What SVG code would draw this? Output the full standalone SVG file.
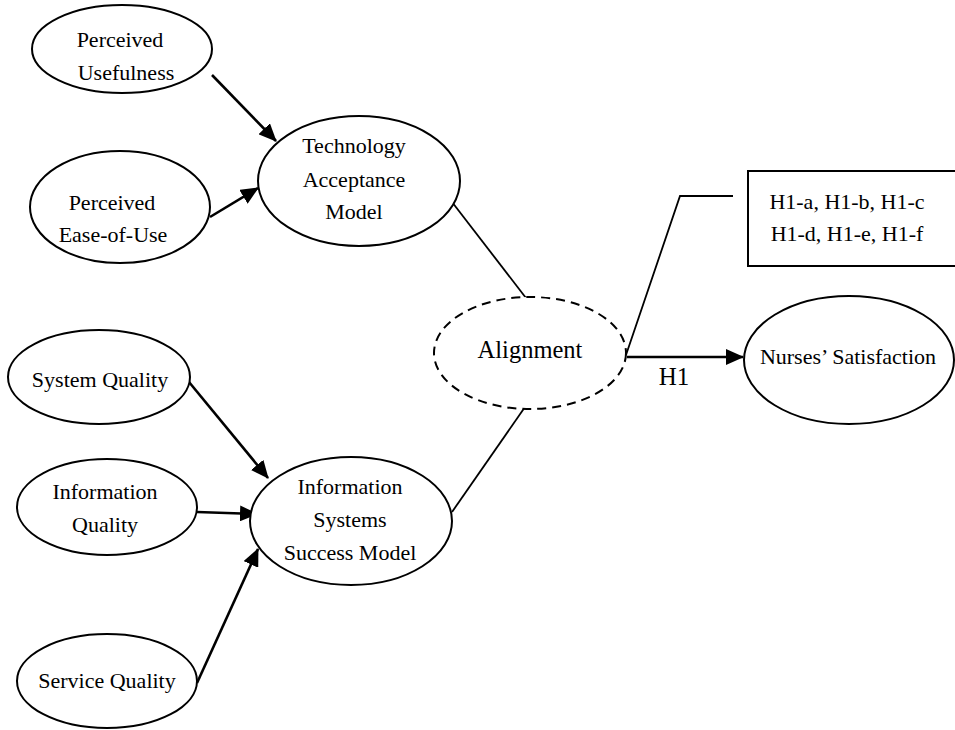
<svg xmlns="http://www.w3.org/2000/svg" width="955" height="730" viewBox="0 0 955 730">
<style>
.n{fill:#fff;stroke:#000;stroke-width:2}
.d{fill:#fff;stroke:#000;stroke-width:2;stroke-dasharray:9,6}
.t{font-family:'Liberation Serif','Times New Roman',Tinos,'DejaVu Serif',serif;font-size:22px;fill:#000;text-anchor:middle}
.a{stroke:#000;stroke-width:2.6;fill:none;marker-end:url(#ah)}
.l{stroke:#000;stroke-width:1.8;fill:none}
</style>
<defs>
<marker id="ah" markerUnits="userSpaceOnUse" markerWidth="18" markerHeight="16" viewBox="0 0 18 16" refX="17" refY="8" orient="auto">
<path d="M0,0 L18,8 L0,16 Z" fill="#000"/>
</marker>
</defs>
<rect width="955" height="730" fill="#fff"/>
<g id="connectors">
<line class="a" x1="212" y1="75" x2="276" y2="141"/>
<line class="a" x1="210" y1="217" x2="258" y2="188"/>
<line class="a" x1="189" y1="382" x2="268" y2="478"/>
<line class="a" x1="197" y1="512" x2="257" y2="514"/>
<line class="a" x1="197" y1="683" x2="258" y2="549"/>
<line class="a" x1="627" y1="357" x2="743" y2="357"/>
<line class="l" x1="452" y1="202" x2="526" y2="298"/>
<line class="l" x1="452" y1="512" x2="525" y2="407"/>
<polyline class="l" points="626,355 680,196 733,196"/>
<text class="t" x="674" y="385" style="font-size:25px">H1</text>
</g>
<g id="pu"><ellipse class="n" cx="122" cy="49" rx="90" ry="44"/><text class="t" x="120" y="47">Perceived</text><text class="t" x="126" y="80">Usefulness</text></g>
<g id="peu"><ellipse class="n" cx="120" cy="207" rx="90" ry="56"/><text class="t" x="112" y="210">Perceived</text><text class="t" x="113" y="242">Ease-of-Use</text></g>
<g id="tam"><ellipse class="n" cx="359" cy="181" rx="101" ry="65"/><text class="t" x="354" y="153">Technology</text><text class="t" x="354" y="187">Acceptance</text><text class="t" x="354" y="219">Model</text></g>
<g id="sq"><ellipse class="n" cx="99" cy="377" rx="91" ry="47"/><text class="t" x="100" y="387">System Quality</text></g>
<g id="iq"><ellipse class="n" cx="107" cy="507" rx="90" ry="48"/><text class="t" x="105" y="499">Information</text><text class="t" x="105" y="532">Quality</text></g>
<g id="svq"><ellipse class="n" cx="107" cy="681" rx="90" ry="47"/><text class="t" x="107" y="688">Service Quality</text></g>
<g id="issm"><ellipse class="n" cx="351" cy="521" rx="101" ry="64"/><text class="t" x="350" y="494">Information</text><text class="t" x="350" y="527">Systems</text><text class="t" x="350" y="560">Success Model</text></g>
<g id="align"><ellipse class="d" cx="530" cy="353" rx="96" ry="56"/><text class="t" x="530" y="358" style="font-size:24.5px">Alignment</text></g>
<g id="box"><rect x="748" y="171" width="212" height="95" fill="#fff" stroke="#000" stroke-width="2"/><text class="t" x="847" y="209">H1-a, H1-b, H1-c</text><text class="t" x="847" y="241">H1-d, H1-e, H1-f</text></g>
<g id="ns"><ellipse class="n" cx="849" cy="360" rx="105" ry="64"/><text class="t" x="848" y="364">Nurses’ Satisfaction</text></g>
</svg>
